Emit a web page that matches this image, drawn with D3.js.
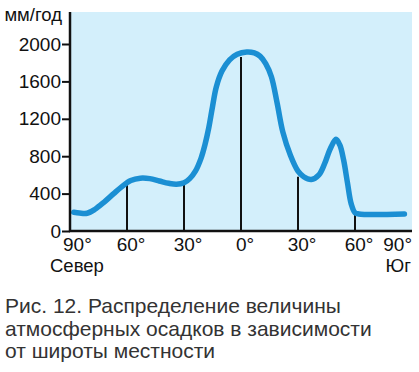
<!DOCTYPE html>
<html>
<head>
<meta charset="utf-8">
<script src="https://cdn.jsdelivr.net/npm/d3@7"></script>
<style>
  body { margin: 0; background: #fff; }
  svg { display: block; font-family: "Liberation Sans", Arial, sans-serif; }
</style>
</head>
<body>
<script>
// широта (север +, юг -) и осадки, мм/год
var latitudes = [88, 85, 81, 77, 72, 67, 63, 58, 53, 48, 43, 38, 34, 30, 27, 24, 21, 19, 17, 15, 13, 10, 6, 2, -3, -7, -10, -13, -16, -19, -22, -26, -30, -33, -37, -41, -44, -47, -50, -52, -54, -56, -58, -60, -62, -86];
var precipitation = [200, 192, 190, 230, 310, 400, 470, 540, 565, 560, 535, 510, 500, 515, 560, 640, 780, 920, 1100, 1330, 1540, 1710, 1830, 1890, 1915, 1905, 1870, 1790, 1650, 1370, 1060, 810, 640, 580, 550, 600, 720, 880, 980, 920, 760, 520, 290, 195, 182, 182];

var markerLats = [60, 30, 0, -30, -60];
var markerVals = [512, 500, 1860, 580, 172];

var yTicks = [0, 400, 800, 1200, 1600, 2000];
var xTicks = [90, 60, 30, 0, -30, -60, -90];
var xTickLabels = ['90°', '60°', '30°', '0°', '30°', '60°', '90°'];

var unitLabel = 'мм/год';
var northLabel = 'Север';
var southLabel = 'Юг';
var caption = ['Рис. 12. Распределение величины', 'атмосферных осадков в зависимости', 'от широты местности'];

var W = 419, H = 372;
var plot = {left: 70, right: 412, top: 12, bottom: 231};

var svg = d3.select('body').append('svg').attr('width', W).attr('height', H);

var x = d3.scaleLinear().domain([90, -90]).range([plot.left, plot.right]);
var y = d3.scaleLinear().domain([0, 2000]).range([plot.bottom, 44]);

// фон
svg.append('rect')
  .attr('x', plot.left).attr('y', plot.top)
  .attr('width', plot.right - plot.left).attr('height', plot.bottom - plot.top)
  .attr('fill', '#d3effb');

// вертикальные линии на широтах
svg.append('g').selectAll('line').data(markerLats).enter().append('line')
  .attr('x1', function(d){ return x(d); })
  .attr('x2', function(d){ return x(d); })
  .attr('y1', y(0))
  .attr('y2', function(d, i){ return y(markerVals[i]); })
  .attr('stroke', '#111').attr('stroke-width', 2);

// кривая
var pts = latitudes.map(function(d, i){ return [d, precipitation[i]]; });
var line = d3.line()
  .x(function(d){ return x(d[0]); })
  .y(function(d){ return y(d[1]); })
  .curve(d3.curveCatmullRom.alpha(0.5));

svg.append('path').datum(pts)
  .attr('d', line)
  .attr('fill', 'none')
  .attr('stroke', '#1b8fd3')
  .attr('stroke-width', 5.5)
  .attr('stroke-linecap', 'round')
  .attr('stroke-linejoin', 'round');

// ось Y
var yAxis = svg.append('g').attr('transform', 'translate(' + plot.left + ',0)')
  .call(d3.axisLeft(y).tickValues(yTicks).tickFormat(d3.format('d')).tickSize(8).tickPadding(1));
yAxis.select('.domain').remove();
yAxis.selectAll('line').attr('stroke', '#111').attr('stroke-width', 2);
yAxis.selectAll('text').attr('font-size', 19).attr('fill', '#111')
  .attr('font-family', '"Liberation Sans", Arial, sans-serif');

svg.append('line')
  .attr('x1', plot.left).attr('x2', plot.left)
  .attr('y1', plot.top).attr('y2', plot.bottom + 1)
  .attr('stroke', '#111').attr('stroke-width', 2.5);
svg.append('line')
  .attr('x1', plot.left - 1).attr('x2', plot.right)
  .attr('y1', plot.bottom).attr('y2', plot.bottom)
  .attr('stroke', '#111').attr('stroke-width', 2.5);

svg.append('text').attr('x', 62).attr('y', 21)
  .attr('text-anchor', 'end').attr('font-size', 18.5).attr('fill', '#111')
  .text(unitLabel);

// подписи широт
svg.append('g').selectAll('text').data(xTicks).enter().append('text')
  .attr('x', function(d, i){
    if (i === 0) return x(d) - 7;
    if (i === xTicks.length - 1) return x(d);
    return x(d) + 4;
  })
  .attr('y', 251)
  .attr('text-anchor', function(d, i){
    if (i === 0) return 'start';
    if (i === xTicks.length - 1) return 'end';
    return 'middle';
  })
  .attr('font-size', 19).attr('fill', '#111')
  .text(function(d, i){ return xTickLabels[i]; });

svg.append('text').attr('x', 50).attr('y', 272)
  .attr('font-size', 18.5).attr('fill', '#111').text(northLabel);
svg.append('text').attr('x', 411).attr('y', 272).attr('text-anchor', 'end')
  .attr('font-size', 18.5).attr('fill', '#111').text(southLabel);

// подпись
svg.append('g').selectAll('text').data(caption).enter().append('text')
  .attr('x', 5)
  .attr('y', function(d, i){ return 313 + i * 22.5; })
  .attr('font-size', 21).attr('fill', '#333')
  .text(function(d){ return d; });
</script>
</body>
</html>
